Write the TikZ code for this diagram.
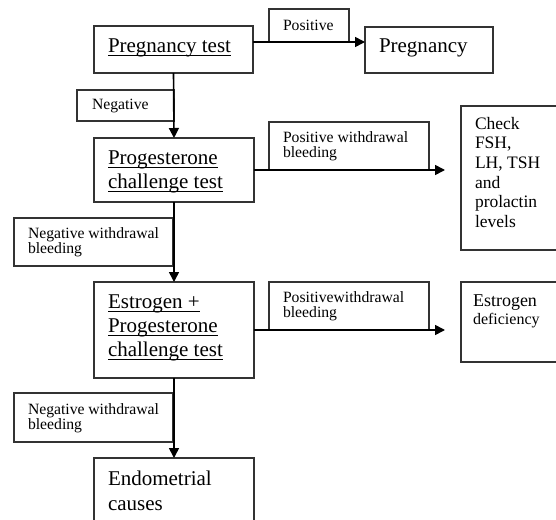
\documentclass[tikz,border=0pt]{standalone}
\usepackage{fontspec}
\setmainfont{Liberation Serif}
\usetikzlibrary{arrows.meta}
\definecolor{boxcol}{HTML}{333333}
\newcommand\tb[3]{\parbox[c][#1][t]{#2}{\raggedright #3}}
\newcommand\myul[1]{\leavevmode\setbox0\hbox{#1}\rlap{\rule[-3.6pt]{\wd0}{1.6pt}}\box0}
\tikzset{
  box/.style={draw=boxcol, line width=1.1pt, anchor=north west, inner sep=0pt, outer sep=0pt},
  big/.style={font=\fontsize{21}{24}\selectfont},
  small/.style={font=\fontsize{15.7}{15}\selectfont},
  mid/.style={font=\fontsize{17.5}{19.7}\selectfont},
  arr/.style={line width=1.6pt, -{Triangle[length=10pt,width=10pt]}},
}
\begin{document}
\begin{tikzpicture}[x=1pt,y=-1pt]
\useasboundingbox (0,0) rectangle (556,519);
% main boxes
\node[box, big, minimum width=159pt, minimum height=47pt] (pt) at (94,26)
  {\tb{20.8pt}{131pt}{\myul{Pregnancy test}}};
\node[box, big, minimum width=128pt, minimum height=46pt] (pg) at (365,27)
  {\tb{21.8pt}{100pt}{Pregnancy}};
\node[box, big, minimum width=160pt, minimum height=64pt] (prog) at (94,138)
  {\tb{37.8pt}{132pt}{\myul{Progesterone}\\\myul{challenge test}}};
\node[box, big, minimum width=160pt, minimum height=96pt] (est) at (94,282)
  {\tb{69.8pt}{132pt}{\myul{Estrogen +}\\\myul{Progesterone}\\\myul{challenge test}}};
\node[box, font=\fontsize{21}{25}\selectfont, minimum width=160pt, minimum height=80pt] (endo) at (94,458)
  {\tb{54.6pt}{132pt}{Endometrial\\causes}};
\node[box, mid, minimum width=110pt, minimum height=144pt] (check) at (461,106)
  {\tb{122pt}{82pt}{Check\\FSH,\\LH, TSH\\and\\prolactin\\levels}};
\node[box, font=\fontsize{18}{18}\selectfont, minimum width=110pt, minimum height=80pt] (estdef) at (461,282)
  {\tb{53.8pt}{86pt}{Estrogen\\{\fontsize{16}{18}\selectfont deficiency}}};
% label boxes
\node[box, small, minimum width=80pt, minimum height=33pt] (poslab) at (269,9)
  {\tb{10.2pt}{52pt}{Positive}};
\node[box, small, minimum width=97pt, minimum height=31pt] (neglab) at (77,90)
  {\tb{12.2pt}{67pt}{Negative}};
\node[box, small, minimum width=160pt, minimum height=48pt] (poswd) at (269,122)
  {\tb{29.2pt}{132pt}{Positive withdrawal\\bleeding}};
\node[box, small, minimum width=159pt, minimum height=48pt] (negwd) at (14,218)
  {\tb{29.2pt}{131pt}{Negative withdrawal\\bleeding}};
\node[box, small, minimum width=160pt, minimum height=48pt] (poswdb) at (269,282)
  {\tb{29.2pt}{132pt}{Positivewithdrawal\\bleeding}};
\node[box, small, minimum width=159pt, minimum height=49pt] (negwdb) at (14,393)
  {\tb{28.2pt}{131pt}{Negative withdrawal\\bleeding}};
% connectors
\draw[arr] (pt.east |- poslab.south) -- (pg.west |- poslab.south);
\draw[arr] (pt.south) -- (prog.north);
\draw[arr] (prog.south) -- (est.north);
\draw[arr] (est.south) -- (endo.north);
\draw[arr] (prog.east) -- ([xshift=-16pt]check.west |- prog.east);
\draw[arr] (est.east) -- ([xshift=-16pt]estdef.west |- est.east);
\end{tikzpicture}
\end{document}
